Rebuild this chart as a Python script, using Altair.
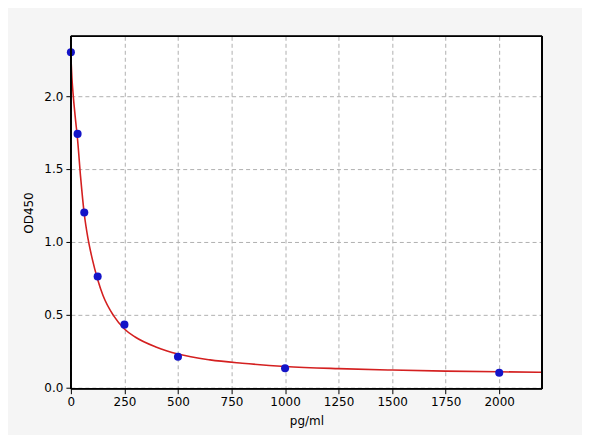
import altair as alt
import pandas as pd

# standard points
conc = [0, 31.25, 62.5, 125, 250, 500, 1000, 2000]
od = [2.30, 1.74, 1.20, 0.76, 0.43, 0.21, 0.13, 0.10]

# fitted curve
curve_x = [0, 5, 10, 20, 31.25, 45, 62.5, 80, 100, 125, 150, 200, 250, 300,
           400, 500, 650, 800, 1000, 1250, 1500, 1750, 2000, 2200]
curve_y = [2.27, 2.12, 2.02, 1.86, 1.70, 1.45, 1.19, 1.02, 0.88, 0.74, 0.63,
           0.49, 0.40, 0.345, 0.275, 0.228, 0.188, 0.165, 0.143, 0.128, 0.118,
           0.111, 0.106, 0.103]

points = pd.DataFrame({"x": conc, "y": od})
curve = pd.DataFrame({"x": curve_x, "y": curve_y})

W, H = 472, 353

xscale = alt.Scale(domain=[0, 2200], nice=False, zero=False)
yscale = alt.Scale(domain=[-0.01, 2.41], nice=False, zero=False)

common = dict(grid=True, gridDash=[4, 3], gridColor="#b0b0b0",
              domain=False, tickColor="black", tickSize=5,
              labelColor="black", labelFontSize=12, titleFontSize=12,
              titleFontWeight="normal", titleColor="black",
              labelPadding=3, labelFlush=False)
xaxis = alt.Axis(title="pg/ml", values=list(range(0, 2001, 250)), format="d",
                 titlePadding=8, **common)
yaxis = alt.Axis(title="OD450", values=[0, 0.5, 1.0, 1.5, 2.0], format=".1f",
                 titlePadding=8, **common)

line = alt.Chart(curve).mark_line(color="#d42020", strokeWidth=1.6,
                                  interpolate="monotone", clip=True).encode(
    x=alt.X("x:Q", scale=xscale, axis=xaxis),
    y=alt.Y("y:Q", scale=yscale, axis=yaxis),
)

dots = alt.Chart(points).mark_circle(color="#1414c8", opacity=1, size=65).encode(
    x=alt.X("x:Q", scale=xscale),
    y=alt.Y("y:Q", scale=yscale),
)

# frame drawn on top of the grid lines
frame = alt.Chart(points).mark_rect(fill=None, stroke="black", strokeWidth=1).encode(
    x=alt.value(0), x2=alt.value(W), y=alt.value(0), y2=alt.value(H)
)

chart = alt.layer(line, dots, frame).properties(
    width=W, height=H,
    autosize="none",
    padding={"left": 63, "top": 28, "right": 40, "bottom": 46},
    background="#f5f5f5",
).configure_view(
    stroke=None, fill="white"
).configure_axis(
    labelFont="DejaVu Sans", titleFont="DejaVu Sans"
)

chart.save("out.html", embed_options={"renderer": "svg", "actions": False})
